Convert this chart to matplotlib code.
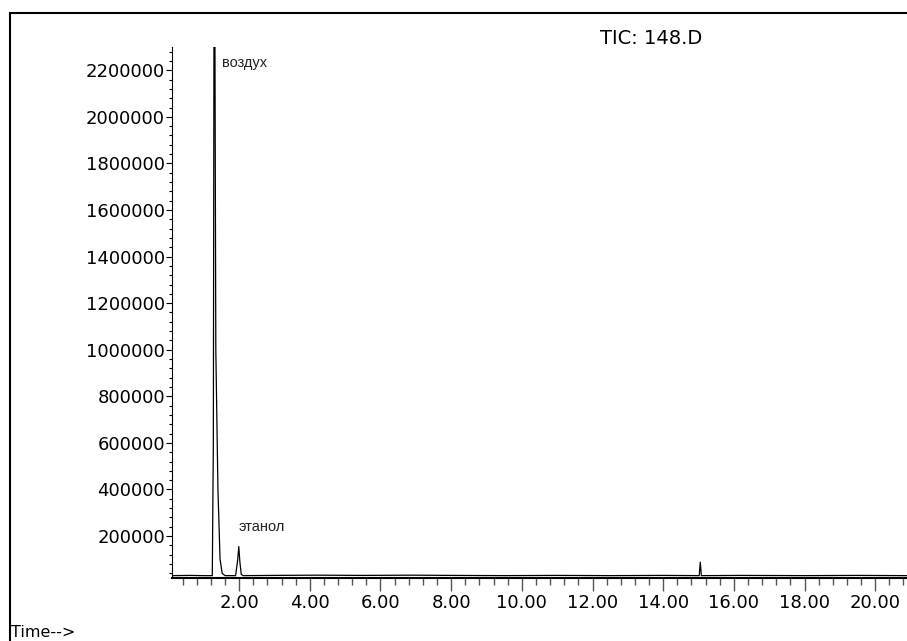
import matplotlib
matplotlib.use("Agg")
import matplotlib.pyplot as plt
from matplotlib.ticker import MultipleLocator, FormatStrFormatter
from matplotlib.patches import Rectangle

# retention time (min) and abundance
times = [0.10, 0.60, 1.00, 1.24, 1.27, 1.29, 1.31, 1.34, 1.40, 1.46, 1.52, 1.60,
         1.90, 1.96, 1.99, 2.02, 2.06, 2.12, 3.00, 4.20, 5.50, 6.90, 8.00, 9.50,
         11.00, 12.50, 14.00, 15.02, 15.05, 15.08, 16.20, 18.00, 19.50, 20.90]
abundance = [30000, 31000, 30000, 30000, 600000, 2600000, 2600000, 1000000, 400000,
             100000, 40000, 30000, 30000, 100000, 155000, 90000, 35000, 30000,
             31000, 32000, 31000, 32000, 31000, 30000, 31000, 30000, 31000,
             30000, 88000, 30000, 31000, 30000, 31000, 30000]

peak_names = ["воздух", "этанол"]
peak_label_x = [1.52, 1.98]
peak_label_y = [2230000, 240000]

title = "TIC: 148.D"

fig = plt.figure(figsize=(9.07, 6.41), dpi=100)
ax = fig.add_axes([172 / 907, 1 - 577.5 / 641, 1 - 172 / 907, (577.5 - 47) / 641])

ax.plot(times, abundance, color="black", lw=0.9)
ax.set_xlim(0.1, 20.9)
ax.set_ylim(22000, 2300000)

for name, x, y in zip(peak_names, peak_label_x, peak_label_y):
    ax.text(x, y, name, fontsize=10.5, ha="left", va="center",
            family=["Liberation Sans", "DejaVu Sans"], color="#222222")

ax.spines["top"].set_visible(False)
ax.spines["right"].set_visible(False)
ax.spines["bottom"].set_linewidth(1.5)
ax.spines["left"].set_linewidth(0.8)

ax.xaxis.set_major_locator(MultipleLocator(2))
ax.xaxis.set_minor_locator(MultipleLocator(0.4))
ax.xaxis.set_major_formatter(FormatStrFormatter("%.2f"))
ax.yaxis.set_major_locator(MultipleLocator(200000))
ax.yaxis.set_minor_locator(MultipleLocator(40000))
ax.yaxis.set_major_formatter(FormatStrFormatter("%d"))

ax.tick_params(axis="x", which="major", length=9, width=1, pad=3, labelsize=13, color="#555555")
ax.tick_params(axis="x", which="minor", length=5, width=1, color="#555555")
ax.tick_params(axis="y", which="major", length=4, width=0.8, pad=1, labelsize=13)
ax.tick_params(axis="y", which="minor", length=2.5, width=0.8)

fig.text(651 / 907, 1 - 38 / 641, title, fontsize=14, ha="center", va="center")
fig.text(11 / 907, 1 / 641, "Time-->", fontsize=11.5, ha="left", va="bottom")

fig.add_artist(Rectangle((9.5 / 907, -0.1), 1.2, 1 - 12.5 / 641 + 0.1,
                         transform=fig.transFigure, fill=False, lw=1.5, ec="black"))

fig.savefig("out.png", dpi=100)
